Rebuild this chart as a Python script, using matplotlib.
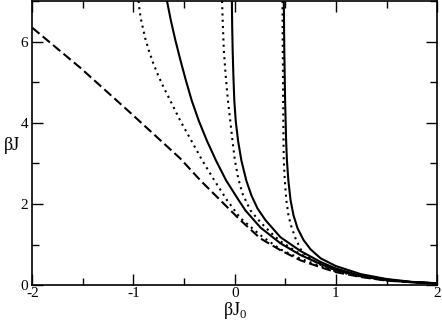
import matplotlib
matplotlib.use("Agg")
import matplotlib.pyplot as plt
from matplotlib.ticker import MultipleLocator

plt.rcParams["font.family"] = ["Liberation Serif", "DejaVu Serif"]
plt.rcParams["axes.unicode_minus"] = False
plt.rcParams["mathtext.fontset"] = "custom"
plt.rcParams["mathtext.rm"] = "Liberation Serif"

# values (beta*J0, beta*J)
dash_x = [-2.0, -1.528, -1.033, -0.538, -0.339, -0.142, 0.056, 0.254, 0.452, 0.650, 0.849, 0.999, 1.246, 1.503, 1.751, 2.0]
dash_y = [6.34, 5.36, 4.25, 3.12, 2.58, 2.09, 1.60, 1.15, 0.86, 0.61, 0.44, 0.32, 0.20, 0.11, 0.07, 0.04]

dotA_x = [-0.950, -0.939, -0.923, -0.883, -0.847, -0.804, -0.755, -0.700, -0.637, -0.538, -0.429, -0.320, -0.201, -0.075, 0.056, 0.254, 0.452, 0.650, 0.849, 0.999, 1.246, 1.503, 1.751, 2.0]
dotA_y = [7.00, 6.75, 6.51, 6.07, 5.77, 5.46, 5.16, 4.86, 4.55, 4.05, 3.56, 3.07, 2.58, 2.09, 1.65, 1.23, 0.88, 0.65, 0.47, 0.34, 0.21, 0.12, 0.074, 0.042]

solA_x = [-0.669, -0.630, -0.585, -0.535, -0.482, -0.425, -0.355, -0.275, -0.185, -0.085, 0.027, 0.106, 0.254, 0.452, 0.650, 0.849, 0.999, 1.246, 1.503, 1.751, 2.0]
solA_y = [7.00, 6.51, 6.02, 5.53, 5.04, 4.55, 4.05, 3.56, 3.07, 2.58, 2.14, 1.84, 1.42, 1.03, 0.74, 0.52, 0.37, 0.22, 0.12, 0.074, 0.042]

dotB_x = [-0.125, -0.117, -0.107, -0.089, -0.067, -0.044, -0.022, 0.002, 0.035, 0.076, 0.155, 0.254, 0.353, 0.452, 0.650, 0.849, 0.999, 1.246, 1.503, 1.751, 2.0]
dotB_y = [7.00, 6.39, 5.77, 5.16, 4.55, 4.05, 3.56, 3.07, 2.63, 2.26, 1.84, 1.55, 1.30, 1.08, 0.76, 0.53, 0.38, 0.22, 0.12, 0.074, 0.042]

solB_x = [-0.028, -0.025, -0.020, -0.013, -0.004, 0.010, 0.033, 0.066, 0.114, 0.165, 0.225, 0.304, 0.452, 0.650, 0.849, 0.999, 1.246, 1.503, 1.751, 2.0]
solB_y = [7.00, 6.39, 5.77, 5.16, 4.55, 4.05, 3.56, 3.07, 2.58, 2.21, 1.89, 1.60, 1.18, 0.84, 0.57, 0.41, 0.23, 0.135, 0.074, 0.045]

dotC_x = [0.472, 0.475, 0.479, 0.482, 0.485, 0.495, 0.510, 0.530, 0.552, 0.601, 0.660, 0.750, 0.849, 0.999, 1.246, 1.503, 1.751, 2.0]
dotC_y = [7.00, 5.77, 4.55, 3.56, 3.07, 2.58, 2.09, 1.74, 1.50, 1.15, 0.84, 0.64, 0.50, 0.37, 0.21, 0.12, 0.074, 0.042]

solC_x = [0.485, 0.490, 0.498, 0.508, 0.516, 0.530, 0.552, 0.581, 0.621, 0.680, 0.750, 0.849, 0.999, 1.246, 1.503, 1.751, 2.0]
solC_y = [7.00, 5.77, 4.55, 3.56, 3.07, 2.58, 2.09, 1.72, 1.40, 1.11, 0.88, 0.66, 0.47, 0.27, 0.15, 0.08, 0.045]

fig = plt.figure(figsize=(4.42, 3.20), dpi=100)
ax = fig.add_axes([0.073, 0.109, 0.916, 0.888])

lw = 1.5
ax.plot(dash_x, dash_y, color="black", lw=lw, linestyle=(0, (4.5, 2)))
for xs, ys in [(dotA_x, dotA_y), (dotB_x, dotB_y), (dotC_x, dotC_y)]:
    ax.plot(xs, ys, color="black", lw=lw, linestyle=(0, (1, 2)))
for xs, ys in [(solA_x, solA_y), (solB_x, solB_y), (solC_x, solC_y)]:
    ax.plot(xs, ys, color="black", lw=lw)

ax.set_xlim(-2, 2)
ax.set_ylim(0, 7)
ax.xaxis.set_major_locator(MultipleLocator(1))
ax.xaxis.set_minor_locator(MultipleLocator(0.5))
ax.yaxis.set_major_locator(MultipleLocator(2))
ax.yaxis.set_minor_locator(MultipleLocator(1))
ax.tick_params(which="both", direction="in", top=True, right=True, width=1, labelsize=11)
ax.tick_params(axis="x", pad=1)
ax.tick_params(axis="y", pad=3)
ax.tick_params(which="major", length=8)
ax.tick_params(which="minor", length=5)
for s in ax.spines.values():
    s.set_linewidth(1.2)

ax.set_xlabel(r"βJ$_0$", fontsize=13, labelpad=0)
ax.set_ylabel("βJ", fontsize=13, rotation=0)
ax.yaxis.set_label_coords(-0.05, 0.46)

fig.savefig("out.png", dpi=100)
